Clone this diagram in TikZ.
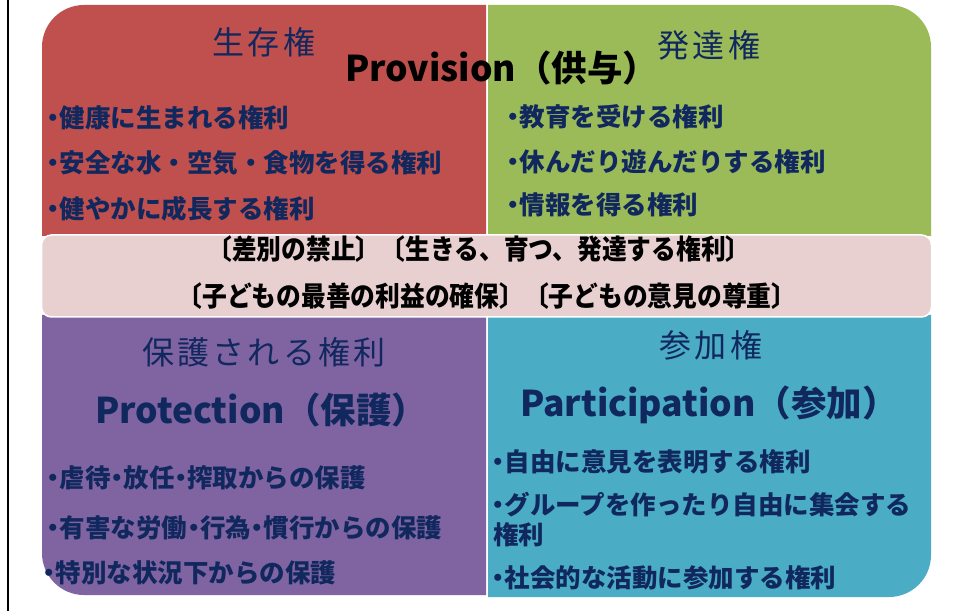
\documentclass[tikz,border=0pt]{standalone}
\usepackage{fontspec}
\newfontfamily\jp{Noto Sans CJK JP}
\newfontfamily\jptitle{Noto Sans CJK JP}[LetterSpace=10]
\IfFontExistsTF{Noto Sans CJK JP Black}
  {\newfontfamily\jpheavy{Noto Sans CJK JP Black}}
  {\newfontfamily\jpheavy{Noto Sans CJK JP}[UprightFont=*, UprightFeatures={FakeBold=1.5}]}
\newfontfamily\jpband{Noto Sans CJK JP}[FakeStretch=0.9]
\newcommand\bul{\makebox[0.5em][c]{・}}
\newcommand\hdot{\makebox[0.5em][c]{・}}
\definecolor{qred}{HTML}{C0504D}
\definecolor{qgreen}{HTML}{9BBB59}
\definecolor{qpurple}{HTML}{8064A2}
\definecolor{qteal}{HTML}{4BACC6}
\definecolor{qband}{HTML}{E8D0D0}
\definecolor{navy}{HTML}{10285E}
\tikzset{
  title/.style={font=\jptitle\fontsize{32}{32}\selectfont, text=navy, inner sep=0pt},
  eng/.style={font=\jp\bfseries\fontsize{35.5}{35.5}\selectfont, inner sep=0pt, anchor=west},
  item/.style={font=\jpheavy\fontsize{25.5}{25.5}\selectfont, text=navy, inner sep=0pt, anchor=west},
  bandtext/.style={font=\jpband\bfseries\fontsize{27.5}{27.5}\selectfont, text=black, inner sep=0pt},
}
\begin{document}
\begin{tikzpicture}[x=1pt,y=1pt]
\useasboundingbox (0,0) rectangle (953,611);
\fill[white] (0,0) rectangle (953,611);
\def\r{42}
% quadrants
\fill[qred] (42,375) -- (42,606-\r) arc[start angle=180,end angle=90,radius=\r] -- (486,606) -- (486,375) -- cycle;
\fill[qgreen] (488,375) -- (488,606) -- (931-\r,606) arc[start angle=90,end angle=0,radius=\r] -- (931,375) -- cycle;
\fill[qpurple] (42,296) -- (486,296) -- (486,16) -- (42+\r,16) arc[start angle=270,end angle=180,radius=\r] -- cycle;
\fill[qteal] (488,296) -- (931,296) -- (931,14+\r) arc[start angle=0,end angle=-90,radius=\r] -- (488,14) -- cycle;
% band
\node[draw=white, line width=1.5pt, fill=qband, rounded corners=10pt, minimum width=890pt, minimum height=82pt, inner sep=0pt] (band) at (486.5,335) {};
% left rule
\draw[line width=2pt] (8,0) -- (8,611);
% titles
\node[title] (t1) at (264,569) {生存権};
\node[title] (t2) at (709,566) {発達権};
\node[title] (t3) at (264,259) {保護される権利};
\node[title] (t4) at (711,266) {参加権};
% English headings
\node[eng, text=black] (e1) at (345,543) {Provision（供与）};
\node[eng, text=navy] (e2) at (95,201) {Protection（保護）};
\node[eng, text=navy] (e3) at (520,206) {Participation（参加）};
% red items
\node[item] (r1) at (47,493) {\bul 健康に生まれる権利};
\node[item] (r2) at (47,448) {\bul 安全な水・空気・食物を得る権利};
\node[item] (r3) at (47,402) {\bul 健やかに成長する権利};
% green items
\node[item] (g1) at (507,494) {\bul 教育を受ける権利};
\node[item] (g2) at (507,449) {\bul 休んだり遊んだりする権利};
\node[item] (g3) at (507,406) {\bul 情報を得る権利};
% band text
\node[bandtext] (b1) at (479,362) {〔差別の禁止〕〔生きる、育つ、発達する権利〕};
\node[bandtext] (b2) at (487,315) {〔子どもの最善の利益の確保〕〔子どもの意見の尊重〕};
% purple items
\node[item] (p1) at (47,133) {\bul 虐待\hdot 放任\hdot 搾取からの保護};
\node[item] (p2) at (47,83) {\bul 有害な労働\hdot 行為\hdot 慣行からの保護};
\node[item] (p3) at (43,38) {\bul 特別な状況下からの保護};
% teal items
\node[item] (q1) at (492,149) {\bul 自由に意見を表明する権利};
\node[item] (q2) at (492,106) {\bul グループを作ったり自由に集会する};
\node[item] (q3) at (493,76) {権利};
\node[item] (q4) at (492,33) {\bul 社会的な活動に参加する権利};
\end{tikzpicture}
\end{document}
